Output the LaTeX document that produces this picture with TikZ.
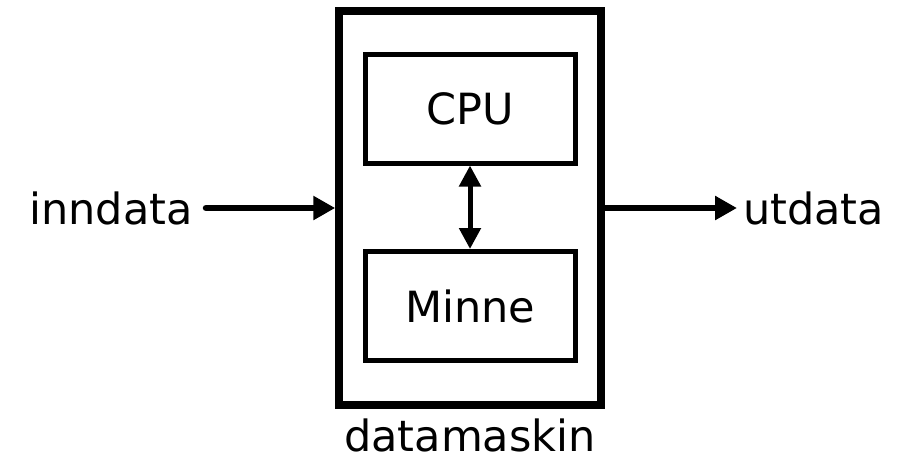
\documentclass[tikz,border=0pt]{standalone}
\usepackage{fontspec}
\setmainfont{DejaVu Sans}
\usetikzlibrary{arrows.meta}
\begin{document}
\begin{tikzpicture}[x=1pt,y=-1pt,
  lbl/.style={inner sep=0pt,font=\fontsize{43}{50}\selectfont},
  machine/.style={draw,line width=7.5pt,minimum width=262pt,minimum height=394pt,inner sep=0pt},
  unit/.style={draw,line width=5pt,minimum width=210pt,minimum height=109pt,inner sep=0pt,font=\fontsize{43}{50}\selectfont},
  flow/.style={line width=6.5pt,line cap=round,-{Triangle[length=22pt,width=23pt]}},
  link/.style={line width=5pt,{Triangle[length=21pt,width=21pt]}-{Triangle[length=21pt,width=21pt]}}]
  \useasboundingbox (0,0) rectangle (915,461);

  % the computer and its parts
  \node[machine] (pc) at (470,208) {};
  \node[unit] (cpu) at (470,108.5) {CPU};
  \node[unit] (mem) at (470,306) {Minne};
  \node[lbl,anchor=base] (pclbl) at (470,451) {datamaskin};

  % input and output
  \node[lbl,anchor=east] (inn) at (193,208) {inndata};
  \node[lbl,anchor=west] (ut) at (743,208) {utdata};

  \draw[flow] ([xshift=13pt]inn.east) -- (pc.west);
  \draw[flow] (pc.east) -- ([xshift=-6pt]ut.west);
  \draw[link] (cpu.south) -- (mem.north);
\end{tikzpicture}
\end{document}
